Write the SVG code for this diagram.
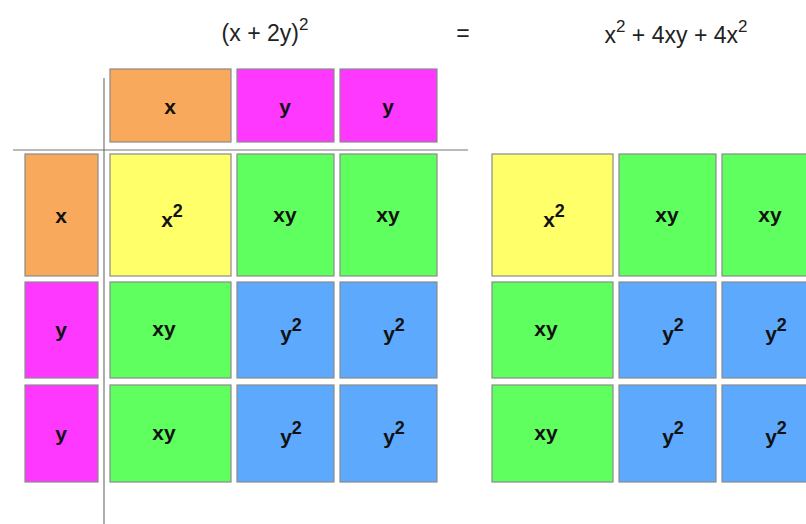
<svg xmlns="http://www.w3.org/2000/svg" width="806" height="524" viewBox="0 0 806 524">
<style>
.c{stroke:#8a8a8a;stroke-width:1.2}
.o{fill:#F8A95B}.m{fill:#FF38FF}.yl{fill:#FFFF6A}.g{fill:#5FFF5F}.b{fill:#5DA9FD}
.t{font-family:"Liberation Sans",Arial,sans-serif;font-weight:bold;font-size:21px;fill:#111;text-anchor:middle}
.h{font-family:"Liberation Sans",Arial,sans-serif;font-size:23px;fill:#222;text-anchor:middle}
.ax{stroke:#777;stroke-width:1.2}
</style>
<g id="titles">
<text class="h" x="265" y="41">(x + 2y)<tspan font-size="17" dy="-11">2</tspan></text>
<text class="h" x="463" y="41">=</text>
<text class="h" x="676" y="43">x<tspan font-size="17" dy="-11">2</tspan><tspan dy="11"> + 4xy + 4x</tspan><tspan font-size="17" dy="-11">2</tspan></text>
</g>
<g id="connectors">
<line class="ax" x1="13" y1="150" x2="468" y2="150"/>
<line class="ax" x1="104" y1="78" x2="104" y2="524"/>
</g>
<g id="top-x"><rect class="c o" x="110" y="69" width="121" height="73"/><text class="t" x="170" y="114">x</text></g>
<g id="top-y1"><rect class="c m" x="237" y="69" width="97" height="73"/><text class="t" x="285" y="114">y</text></g>
<g id="top-y2"><rect class="c m" x="340" y="69" width="97" height="73"/><text class="t" x="388" y="114">y</text></g>
<g id="left-x"><rect class="c o" x="25" y="154" width="73" height="122"/><text class="t" x="61" y="223">x</text></g>
<g id="left-y1"><rect class="c m" x="25" y="282" width="73" height="96"/><text class="t" x="61" y="337">y</text></g>
<g id="left-y2"><rect class="c m" x="25" y="385" width="73" height="97"/><text class="t" x="61" y="441">y</text></g>
<g id="a11"><rect class="c yl" x="110" y="154" width="121" height="122"/><text class="t" x="172" y="227">x<tspan font-size="18" dy="-10">2</tspan></text></g>
<g id="a12"><rect class="c g" x="237" y="154" width="97" height="122"/><text class="t" x="285" y="222">xy</text></g>
<g id="a13"><rect class="c g" x="340" y="154" width="97" height="122"/><text class="t" x="388" y="222">xy</text></g>
<g id="a21"><rect class="c g" x="110" y="282" width="121" height="96"/><text class="t" x="164" y="336">xy</text></g>
<g id="a22"><rect class="c b" x="237" y="282" width="97" height="96"/><text class="t" x="291" y="341">y<tspan font-size="18" dy="-10">2</tspan></text></g>
<g id="a23"><rect class="c b" x="340" y="282" width="97" height="96"/><text class="t" x="394" y="341">y<tspan font-size="18" dy="-10">2</tspan></text></g>
<g id="a31"><rect class="c g" x="110" y="385" width="121" height="97"/><text class="t" x="164" y="440">xy</text></g>
<g id="a32"><rect class="c b" x="237" y="385" width="97" height="97"/><text class="t" x="291" y="444">y<tspan font-size="18" dy="-10">2</tspan></text></g>
<g id="a33"><rect class="c b" x="340" y="385" width="97" height="97"/><text class="t" x="394" y="444">y<tspan font-size="18" dy="-10">2</tspan></text></g>
<g id="b11"><rect class="c yl" x="492" y="154" width="121" height="122"/><text class="t" x="554" y="227">x<tspan font-size="18" dy="-10">2</tspan></text></g>
<g id="b12"><rect class="c g" x="619" y="154" width="97" height="122"/><text class="t" x="667" y="222">xy</text></g>
<g id="b13"><rect class="c g" x="722" y="154" width="97" height="122"/><text class="t" x="770" y="222">xy</text></g>
<g id="b21"><rect class="c g" x="492" y="282" width="121" height="96"/><text class="t" x="546" y="336">xy</text></g>
<g id="b22"><rect class="c b" x="619" y="282" width="97" height="96"/><text class="t" x="673" y="341">y<tspan font-size="18" dy="-10">2</tspan></text></g>
<g id="b23"><rect class="c b" x="722" y="282" width="97" height="96"/><text class="t" x="776" y="341">y<tspan font-size="18" dy="-10">2</tspan></text></g>
<g id="b31"><rect class="c g" x="492" y="385" width="121" height="97"/><text class="t" x="546" y="440">xy</text></g>
<g id="b32"><rect class="c b" x="619" y="385" width="97" height="97"/><text class="t" x="673" y="444">y<tspan font-size="18" dy="-10">2</tspan></text></g>
<g id="b33"><rect class="c b" x="722" y="385" width="97" height="97"/><text class="t" x="776" y="444">y<tspan font-size="18" dy="-10">2</tspan></text></g>
</svg>
